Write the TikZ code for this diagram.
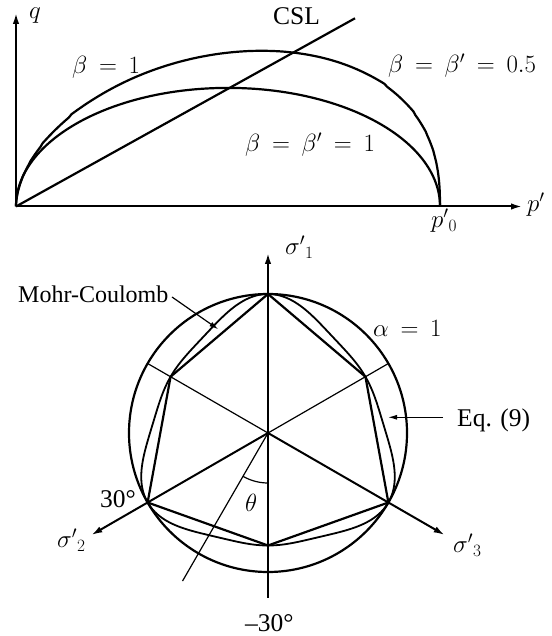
\documentclass[tikz,border=0pt]{standalone}
\usepackage{fontspec}
\setmainfont{Liberation Serif}
\usetikzlibrary{arrows.meta}
\AtBeginDocument{\thickmuskip=8.5mu plus 2mu\relax}
\begin{document}
\begin{tikzpicture}[x=1pt,y=1pt,
  thickline/.style={line width=2.2pt},
  midline/.style={line width=1.8pt},
  thinline/.style={line width=1.2pt},
  axisarrow/.style={line width=2pt,-{Latex[length=11pt,width=6.5pt]}},
  leader/.style={line width=1.2pt,-{Latex[length=9pt,width=5pt]}},
  txt/.style={inner sep=0pt, anchor=base west, font=\fontsize{25.5}{30}\selectfont},
  mth/.style={inner sep=0pt, anchor=base west, font=\fontsize{25}{30}\selectfont},
]
\useasboundingbox (0,0) rectangle (551,636);
% ---------------- top: q - p' plane ----------------
\coordinate (O) at (16,429.5);
\coordinate (P0) at (440,429.5);
\coordinate (qtip) at (16,623);
\coordinate (ptip) at (522,429.5);
\coordinate (cslend) at (355,617.7);
\draw[axisarrow] (O) -- (qtip);
\draw[axisarrow] (O) -- (ptip);
\draw[thickline] (O) -- (cslend);
\draw[thickline] (O) arc[start angle=180,end angle=0,x radius=212,y radius=118.6];
\draw[thickline] (O) -- plot[domain=1:179,samples=160,variable=\s]
  ({16+424*(1-cos(\s))/2},{429.5+300*((1-cos(\s))/2)^0.558*((1+cos(\s))/2)^0.406}) -- (P0);
\node[mth] (q) at (29,617) {$q$};
\node[mth] (p) at (527,424) {$p'$};
\node[mth] (p0) at (431,408) {$p'{}_0$};
\node[txt] (csl) at (273,611) {CSL};
\node[mth] (b1) at (72,562) {$\beta = 1$};
\node[mth] (b05) at (388,563) {$\beta = \beta' = 0.5$};
\node[mth] (bb1) at (245,484.3) {$\beta = \beta' = 1$};
% ---------------- bottom: deviatoric plane ----------------
\begin{scope}[shift={(268,203)}]
\coordinate (C) at (0,0);
\draw[thickline] (C) circle[radius=139];
\draw[thickline] (90:139) -- (150:112.5) -- (210:139) -- (270:112.5) -- (330:139) -- (30:112.5) -- cycle;
\draw[midline] plot[domain=0:360,samples=361,variable=\p]
  (\p:{1000/(8.25807+0.84735*sin(3*\p)+0.21652*cos(6*\p))}) -- cycle;
\draw[thinline] (C) -- (30:139);
\draw[thinline] (C) -- (150:139);
\draw[thinline] (C) -- (270:165);
\draw[thinline] (C) -- (240:171);
\draw[thinline] (240:50) arc[start angle=240,end angle=270,radius=50];
\draw[axisarrow] (C) -- (90:180);
\draw[axisarrow] (C) -- (210:204);
\draw[axisarrow] (C) -- (330:204);
\end{scope}
\node[txt,font=\fontsize{24}{30}\selectfont] (mc) at (18,333) {Mohr-Coulomb};
\coordinate (mcs) at (172,339);
\coordinate (mct) at (218.3,306.7);
\draw[leader] (mcs) -- (mct);
\node[txt] (eq) at (457,209) {Eq. (9)};
\coordinate (eqs) at (443,218.7);
\coordinate (eqt) at (388,218.7);
\draw[leader] (eqs) -- (eqt);
\node[mth] (alpha) at (373,299.3) {$\alpha = 1$};
\node[mth] (s1) at (285,381) {$\sigma'{}_1$};
\node[mth] (s2) at (57,88) {$\sigma'{}_2$};
\node[mth] (s3) at (453,83) {$\sigma'{}_3$};
\node[txt] (t30) at (100,128) {30°};
\node[mth] (th) at (245,124) {$\theta$};
\node[txt] (tm30) at (245,4.5) {–30°};
\end{tikzpicture}
\end{document}
